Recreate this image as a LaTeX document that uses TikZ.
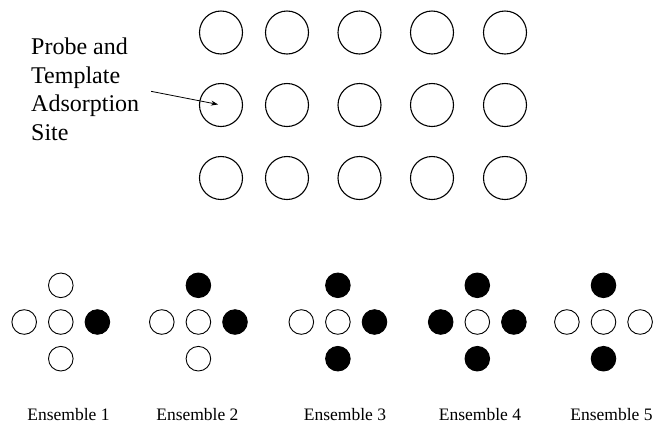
\documentclass[tikz,border=0pt]{standalone}
\usepackage{fontspec}
\setmainfont{Liberation Serif}
\usetikzlibrary{arrows.meta}
\begin{document}
\begin{tikzpicture}[x=1pt,y=-1pt,
  site/.style={circle,draw=black,line width=1.1pt,minimum size=43pt,inner sep=0pt},
  wsite/.style={circle,draw=black,line width=0.9pt,fill=white,minimum size=24.6pt,inner sep=0pt},
  bsite/.style={circle,draw=black,line width=0.9pt,fill=black,minimum size=24.6pt,inner sep=0pt},
  lbl/.style={font=\fontsize{17.5}{20}\selectfont,inner sep=0pt,anchor=base},
  pointer/.style={line width=0.8pt,-{Stealth[length=7pt,width=5pt]}}]
\useasboundingbox (0,0) rectangle (654,424);
% top grid
\foreach \cx [count=\i] in {221,287,359.5,432,505}{
  \foreach \cy [count=\j] in {32.5,105,178}{
    \node[site] (c\j\i) at (\cx,\cy) {};
  }
}
% label and arrow
\node[font=\fontsize{24}{28.5}\selectfont,align=left,inner sep=0pt,anchor=base west] (probe) at (31,140)
  {Probe and\\Template\\Adsorption\\Site};
\draw[pointer,shorten <=12pt,shorten >=3pt] (probe.east) -- (c21.center);
% ensembles
\def\dx{36.6}\def\dy{36.7}
\foreach \cx/\t/\l/\r/\b [count=\k] in {60.8/wsite/wsite/bsite/wsite, 198.4/bsite/wsite/bsite/wsite, 337.9/bsite/wsite/bsite/bsite, 477.3/bsite/bsite/bsite/bsite, 603.5/bsite/wsite/wsite/bsite}{
  \node[wsite] (e\k m) at (\cx,322) {};
  \node[\t] (e\k t) at (\cx,322-\dy) {};
  \node[\b] (e\k b) at (\cx,322+\dy) {};
  \node[\l] (e\k l) at (\cx-\dx,322) {};
  \node[\r] (e\k r) at (\cx+\dx,322) {};
}
\node[lbl] (l1) at (68.5,420.7) {Ensemble 1};
\node[lbl] (l2) at (197.4,420.7) {Ensemble 2};
\node[lbl] (l3) at (345,420.7) {Ensemble 3};
\node[lbl] (l4) at (480,420.7) {Ensemble 4};
\node[lbl] (l5) at (611.5,420.7) {Ensemble 5};
\end{tikzpicture}
\end{document}
